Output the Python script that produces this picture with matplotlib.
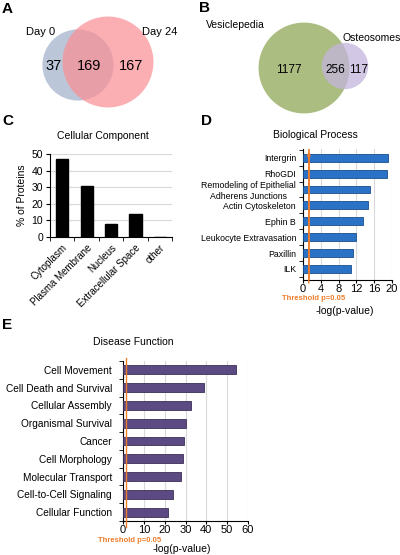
import numpy as np
import matplotlib
matplotlib.use("Agg")
import matplotlib.pyplot as plt
from matplotlib.patches import Circle

plt.rcParams['font.family'] = ['Liberation Sans', 'DejaVu Sans']

# ---------------- data ----------------
venn_a_labels = ["Day 0", "Day 24"]
venn_a_counts = [37, 169, 167]          # only Day0, both, only Day24
venn_b_labels = ["Vesiclepedia", "Osteosomes"]
venn_b_counts = [1177, 256, 117]

cc_categories = ["Cytoplasm", "Plasma Membrane", "Nucleus", "Extracellular Space", "other"]
cc_values = [47, 31, 8, 14, 0]

bp_categories = ["Intergrin", "RhoGDI", "Remodeling of Epithelial\nAdherens Junctions",
                 "Actin Cytoskeleton", "Ephin B", "Leukocyte Extravasation", "Paxillin", "ILK"]
bp_values = [19.1, 18.9, 15.1, 14.7, 13.4, 11.9, 11.2, 10.8]
bp_ticks = [0, 4, 8, 12, 16, 20]

df_categories = ["Cell Movement", "Cell Death and Survival", "Cellular Assembly",
                 "Organismal Survival", "Cancer", "Cell Morphology", "Molecular Transport",
                 "Cell-to-Cell Signaling", "Cellular Function"]
df_values = [54.4, 38.7, 32.6, 30.2, 29.3, 28.8, 27.7, 23.9, 21.8]
df_ticks = [0, 10, 20, 30, 40, 50, 60]

threshold = -np.log10(0.05)

W, H = 400, 555
fig = plt.figure(figsize=(W / 100, H / 100), dpi=100)

def fx(x):
    return x / W

def fy(y):
    return 1 - y / H

def rect(l, t, r, b):
    return [fx(l), fy(b), (r - l) / W, (b - t) / H]

ORANGE = "#ee7d2a"
GRID = "#d9d9d9"

# ---------------- panel letters ----------------
for letter, (x, y) in {"A": (2, 9), "B": (199, 8), "C": (2, 121), "D": (201, 121), "E": (2, 325)}.items():
    fig.text(fx(x), fy(y), letter, fontsize=11, fontweight="bold", va="center", ha="left")

# ---------------- Venn A ----------------
axa = fig.add_axes(rect(0, 0, 200, 120))
axa.set_xlim(0, 200); axa.set_ylim(120, 0); axa.set_aspect("equal"); axa.axis("off")
tot0 = venn_a_counts[0] + venn_a_counts[1]
tot24 = venn_a_counts[1] + venn_a_counts[2]
k = 2.48
r0, r24 = k * np.sqrt(tot0), k * np.sqrt(tot24)
axa.add_patch(Circle((78, 65), r0, facecolor="#9fb0c9", alpha=0.7, edgecolor="none"))
axa.add_patch(Circle((108, 62), r24, facecolor="#fb8d93", alpha=0.7, edgecolor="none"))
axa.text(41, 32, venn_a_labels[0], fontsize=8, ha="center", va="center")
axa.text(160, 32, venn_a_labels[1], fontsize=8, ha="center", va="center")
for x, v in zip([54, 89, 131], venn_a_counts):
    axa.text(x, 66, str(v), fontsize=10.5, ha="center", va="center")

# ---------------- Venn B ----------------
axb = fig.add_axes(rect(200, 0, 400, 120))
axb.set_xlim(200, 400); axb.set_ylim(120, 0); axb.set_aspect("equal"); axb.axis("off")
totv = venn_b_counts[0] + venn_b_counts[1]
toto = venn_b_counts[1] + venn_b_counts[2]
kb = 1.2
axb.add_patch(Circle((304, 68), kb * np.sqrt(totv), facecolor="#97ad62", alpha=0.8, edgecolor="none"))
axb.add_patch(Circle((345, 66), kb * np.sqrt(toto), facecolor="#c3b5dd", alpha=0.75, edgecolor="none"))
axb.text(235, 25, venn_b_labels[0], fontsize=7.5, ha="center", va="center")
axb.text(372, 38, venn_b_labels[1], fontsize=7.5, ha="center", va="center")
for x, v in zip([289, 335, 359], venn_b_counts):
    axb.text(x, 70, str(v), fontsize=8.5, ha="center", va="center")

# ---------------- panel C ----------------
axc = fig.add_axes(rect(50, 154, 172, 237))
xc = np.arange(len(cc_categories))
axc.bar(xc, cc_values, width=0.5, color="black", edgecolor="black", zorder=3)
axc.set_xlim(-0.5, len(cc_categories) - 0.5)
axc.set_ylim(0, 50)
axc.set_yticks([0, 10, 20, 30, 40, 50])
axc.yaxis.grid(True, color=GRID, linewidth=0.8, zorder=0)
axc.set_xticks(xc)
axc.set_xticklabels(cc_categories, rotation=45, ha="right", rotation_mode="anchor", fontsize=7)
axc.tick_params(axis="x", length=0, pad=4)
axc.set_xticks(np.arange(-0.5, len(cc_categories), 1), minor=True)
axc.tick_params(axis="x", which="minor", length=3, direction="out")
axc.tick_params(axis="y", labelsize=7.5, length=3, direction="out", pad=2)
for s in ["top", "right"]:
    axc.spines[s].set_visible(False)
axc.set_ylabel("% of Proteins", fontsize=7.5, labelpad=3)
fig.text(fx(103), fy(136), "Cellular Component", fontsize=7.5, ha="center", va="center")

# ---------------- panel D ----------------
axd = fig.add_axes(rect(303, 149, 392, 280))
yd = np.arange(len(bp_categories))
axd.barh(yd, bp_values, height=0.5, color="#2a72c6", edgecolor="#1b4e8c", linewidth=0.6, zorder=3)
axd.set_ylim(len(bp_categories) - 0.3, -0.55)
axd.set_xlim(0, 20)
axd.set_xticks(bp_ticks)
axd.set_xticklabels([str(t) for t in bp_ticks], fontsize=8)
axd.tick_params(axis="x", length=2, pad=1)
axd.set_yticks(yd)
axd.set_yticklabels(bp_categories, fontsize=6.3, multialignment="center")
axd.tick_params(axis="y", length=0, pad=5)
axd.set_yticks(np.arange(-0.5, len(bp_categories), 1), minor=True)
axd.tick_params(axis="y", which="minor", length=3, direction="out")
axd.xaxis.grid(True, color=GRID, linewidth=0.8, zorder=0)
for s in ["top", "right"]:
    axd.spines[s].set_visible(False)
axd.axvline(threshold, color=ORANGE, linewidth=1.2, zorder=4)
axd.annotate("", xy=(threshold, 1.0), xytext=(threshold, -0.045),
             xycoords=("data", "axes fraction"), textcoords=("data", "axes fraction"),
             arrowprops=dict(arrowstyle="-|>", color=ORANGE, lw=1, mutation_scale=5),
             annotation_clip=False)
fig.text(fx(314), fy(298), "Threshold p=0.05", fontsize=5.5, color=ORANGE, fontweight="bold",
         ha="center", va="center")
fig.text(fx(315), fy(135), "Biological Process", fontsize=7.5, ha="center", va="center")
fig.text(fx(345), fy(311), "-log(p-value)", fontsize=7.5, ha="center", va="center")

# ---------------- panel E ----------------
axe = fig.add_axes(rect(123, 361, 248, 521))
ye = np.arange(len(df_categories))
axe.barh(ye, df_values, height=0.5, color="#5c4a82", edgecolor="#3c2f57", linewidth=0.6, zorder=3)
axe.set_ylim(len(df_categories) - 0.5, -0.5)
axe.set_xlim(0, 60)
axe.set_xticks(df_ticks)
axe.set_xticklabels([str(t) for t in df_ticks], fontsize=8)
axe.tick_params(axis="x", length=2, pad=1)
axe.set_yticks(ye)
axe.set_yticklabels(df_categories, fontsize=7.3)
axe.tick_params(axis="y", length=0, pad=8)
axe.set_yticks(np.arange(-0.5, len(df_categories), 1), minor=True)
axe.tick_params(axis="y", which="minor", length=3, direction="out")
axe.xaxis.grid(True, color=GRID, linewidth=0.8, zorder=0)
for s in ["top", "right"]:
    axe.spines[s].set_visible(False)
axe.axvline(threshold, color=ORANGE, linewidth=1.0, zorder=4, ymin=-0.04, ymax=1.02, clip_on=False)
fig.text(fx(133), fy(342), "Disease Function", fontsize=7.5, ha="center", va="center")
fig.text(fx(130), fy(541), "Threshold p=0.05", fontsize=5.5, color=ORANGE, fontweight="bold",
         ha="center", va="center")
fig.text(fx(182), fy(549), "-log(p-value)", fontsize=7.5, ha="center", va="center")

fig.savefig("out.png", dpi=100)
